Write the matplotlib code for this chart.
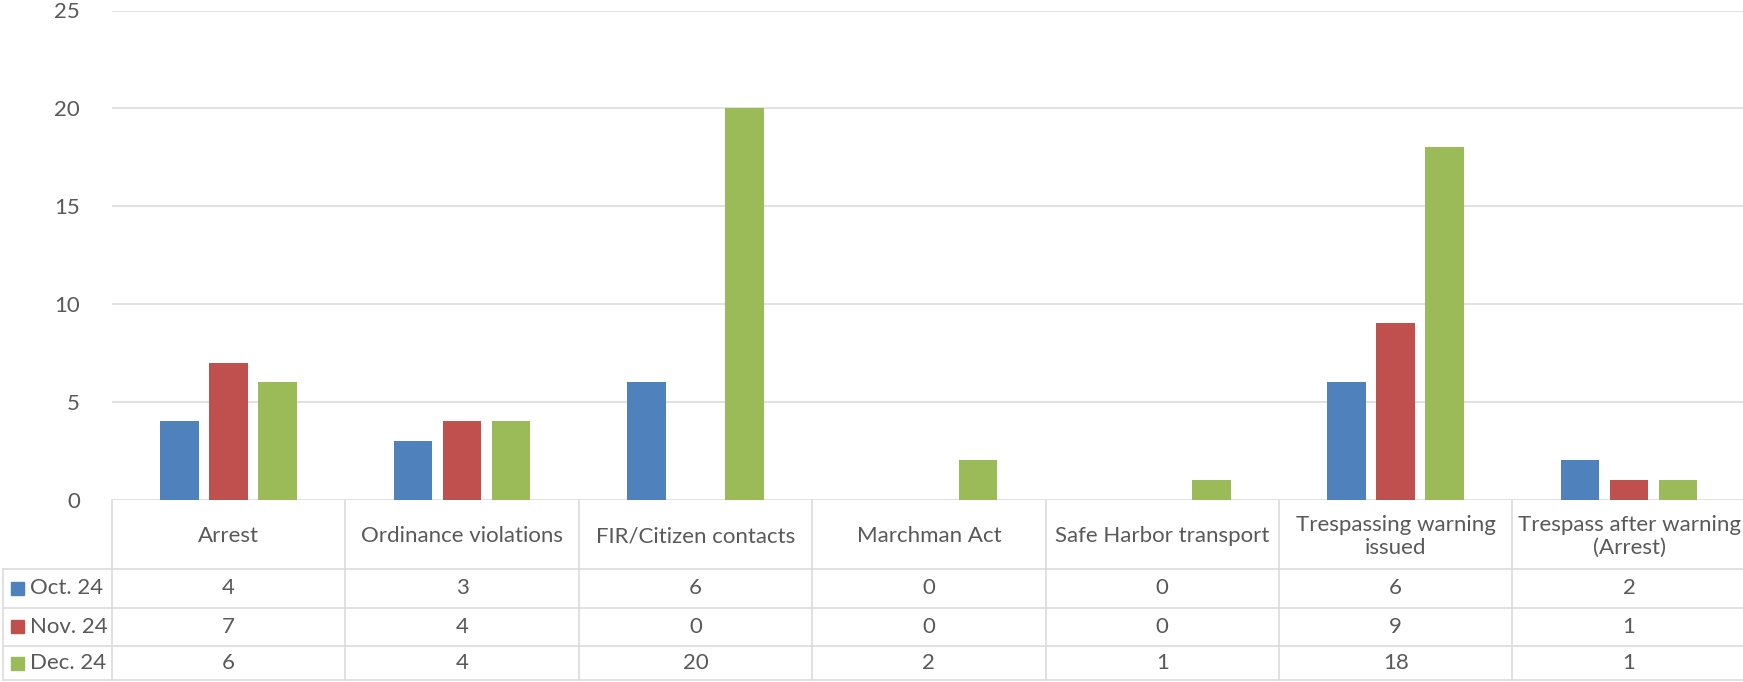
import numpy as np
import matplotlib.pyplot as plt
from matplotlib.transforms import blended_transform_factory
from matplotlib.patches import Rectangle

categories = ['Arrest', 'Ordinance violations', 'FIR/Citizen contacts', 'Marchman Act',
              'Safe Harbor transport', 'Trespassing warning\nissued',
              'Trespass after warning\n(Arrest)']
series = ['Oct. 24', 'Nov. 24', 'Dec. 24']
oct24 = [4, 3, 6, 0, 0, 6, 2]
nov24 = [7, 4, 0, 0, 0, 9, 1]
dec24 = [6, 4, 20, 2, 1, 18, 1]
colors = ['#4F81BD', '#C0504D', '#9BBB59']

plt.rcParams['font.family'] = ['Lato', 'DejaVu Sans']
txt = '#595959'
grid = '#D9D9D9'
fs = 16

W, H = 1743, 682
fig = plt.figure(figsize=(W / 100, H / 100), dpi=100)

# layout in pixels
x0 = 112
colw = 233.4
y_top = 10.5
y_zero = 499.5
row_lines = [y_zero, 569, 607.5, 646, 680]

ax = fig.add_axes([x0 / W, (H - y_zero) / H, 7 * colw / W, (y_zero - y_top) / H])
x = np.arange(len(categories))
data = [oct24, nov24, dec24]
for i in range(3):
    ax.bar(x + (i - 1) * 0.21, data[i], width=0.165, color=colors[i], zorder=3)
ax.set_xlim(-0.5, 6.5)
ax.set_ylim(0, 25)
ax.set_yticks(range(0, 26, 5))
ax.yaxis.grid(True, color=grid, lw=1.1)
ax.set_axisbelow(True)
ax.set_xticks([])
for s in ax.spines.values():
    s.set_visible(False)
ax.tick_params(axis='y', length=0, pad=23, labelsize=fs, labelcolor=txt)

# data table below the plot
ov = fig.add_axes([0, 0, 1, 1], zorder=-1)
ov.set_xlim(0, W)
ov.set_ylim(H, 0)
ov.axis('off')
tr = blended_transform_factory(ax.transData, ov.transData)

for k in range(len(categories) + 1):
    ov.plot([k - 0.5, k - 0.5], [row_lines[0], row_lines[-1]], color=grid, lw=1.1,
            transform=tr, clip_on=False)
for y in row_lines[1:]:
    ov.plot([3, W], [y, y], color=grid, lw=1.1)
ov.plot([3, 3], [row_lines[1], row_lines[-1]], color=grid, lw=1.1)

hy = (row_lines[0] + row_lines[1]) / 2 + 2
for i, c in enumerate(categories):
    ov.text(x[i], hy, c, transform=tr, ha='center', va='center', fontsize=fs,
            color=txt, linespacing=1.2, clip_on=False)

for r in range(3):
    yc = (row_lines[r + 1] + row_lines[r + 2]) / 2
    ov.add_patch(Rectangle((11.5, yc - 6.5), 13, 13, color=colors[r]))
    ov.text(30.5, yc, series[r], ha='left', va='center', fontsize=fs, color=txt)
    for i, v in enumerate(data[r]):
        ov.text(x[i], yc, str(v), transform=tr, ha='center', va='center',
                fontsize=fs, color=txt, clip_on=False)

fig.savefig('out.png', dpi=100)
